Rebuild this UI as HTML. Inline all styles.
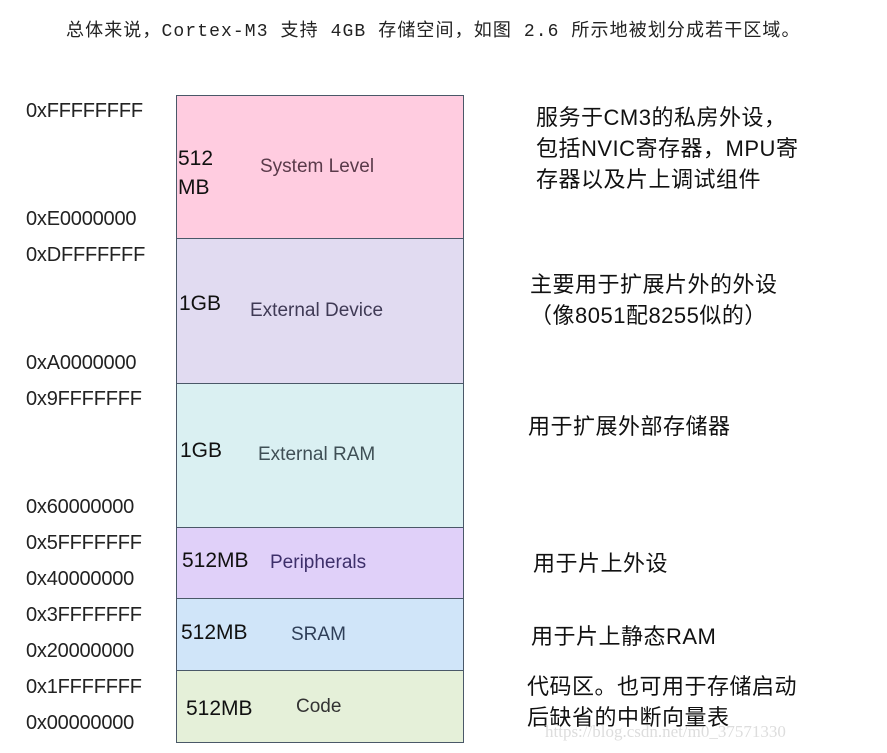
<!DOCTYPE html>
<html><head><meta charset="utf-8"><style>
body{margin:0;width:887px;height:753px;background:#fff;position:relative;overflow:hidden;font-family:"Liberation Sans","Noto Sans CJK SC",sans-serif}
.a{position:absolute;left:26px;font-size:20px;color:#222;line-height:20px;transform:translateY(-10px);font-family:"Liberation Sans",sans-serif;letter-spacing:-0.2px}
.b{position:absolute;left:176px;width:288px;border:1px solid #4a5868;box-sizing:border-box}
.s{position:absolute;font-size:21px;color:#111;line-height:22px;transform:translateY(-11px)}
.l{position:absolute;font-size:19px;color:#444;line-height:20px;transform:translateY(-10px)}
.r{position:absolute;font-size:22px;color:#111;line-height:31px;letter-spacing:0.5px}
</style></head><body>
<div style="position:absolute;left:66px;top:16px;font-size:18px;letter-spacing:1.1px;color:#222;font-family:'Liberation Mono','Noto Sans CJK SC',monospace">总体来说，Cortex-M3 支持 4GB 存储空间，如图 2.6 所示地被划分成若干区域。</div>
<div class="b" style="top:95px;height:144px;background:#ffcce0"></div>
<div class="b" style="top:238px;height:146px;background:#e1dbf1"></div>
<div class="b" style="top:383px;height:145px;background:#daf0f2"></div>
<div class="b" style="top:527px;height:72px;background:#e0d0f9"></div>
<div class="b" style="top:598px;height:73px;background:#d0e5f9"></div>
<div class="b" style="top:670px;height:73px;background:#e5f0d9"></div>
<div class="a" style="top:111px">0xFFFFFFFF</div>
<div class="a" style="top:219px">0xE0000000</div>
<div class="a" style="top:255px">0xDFFFFFFF</div>
<div class="a" style="top:363px">0xA0000000</div>
<div class="a" style="top:399px">0x9FFFFFFF</div>
<div class="a" style="top:507px">0x60000000</div>
<div class="a" style="top:543px">0x5FFFFFFF</div>
<div class="a" style="top:579px">0x40000000</div>
<div class="a" style="top:615px">0x3FFFFFFF</div>
<div class="a" style="top:651px">0x20000000</div>
<div class="a" style="top:687px">0x1FFFFFFF</div>
<div class="a" style="top:723px">0x00000000</div>
<div class="s" style="left:178px;top:159px">512</div>
<div class="s" style="left:178px;top:188px">MB</div>
<div class="l" style="left:260px;top:167px;color:#5a3a4a">System Level</div>
<div class="s" style="left:179px;top:304px">1GB</div>
<div class="l" style="left:250px;top:311px;color:#3f3a55">External Device</div>
<div class="s" style="left:180px;top:451px">1GB</div>
<div class="l" style="left:258px;top:455px;color:#3f4f55">External RAM</div>
<div class="s" style="left:182px;top:561px">512MB</div>
<div class="l" style="left:270px;top:563px;color:#3d2f6a">Peripherals</div>
<div class="s" style="left:181px;top:633px">512MB</div>
<div class="l" style="left:291px;top:635px;color:#2f3f58">SRAM</div>
<div class="s" style="left:186px;top:709px">512MB</div>
<div class="l" style="left:296px;top:707px;color:#333">Code</div>
<div class="r" style="left:536px;top:102px">服务于CM3的私房外设，<br>包括NVIC寄存器，MPU寄<br>存器以及片上调试组件</div>
<div class="r" style="left:530px;top:269px">主要用于扩展片外的外设<br>（像8051配8255似的）</div>
<div class="r" style="left:528px;top:411px">用于扩展外部存储器</div>
<div class="r" style="left:533px;top:548px">用于片上外设</div>
<div class="r" style="left:531px;top:621px">用于片上静态RAM</div>
<div class="r" style="left:527px;top:671px">代码区。也可用于存储启动<br>后缺省的中断向量表</div>
<div style="position:absolute;left:545px;top:722px;font-size:17px;color:#ddd;font-family:'Liberation Serif',serif">https://blog.csdn.net/m0_37571330</div>
</body></html>
